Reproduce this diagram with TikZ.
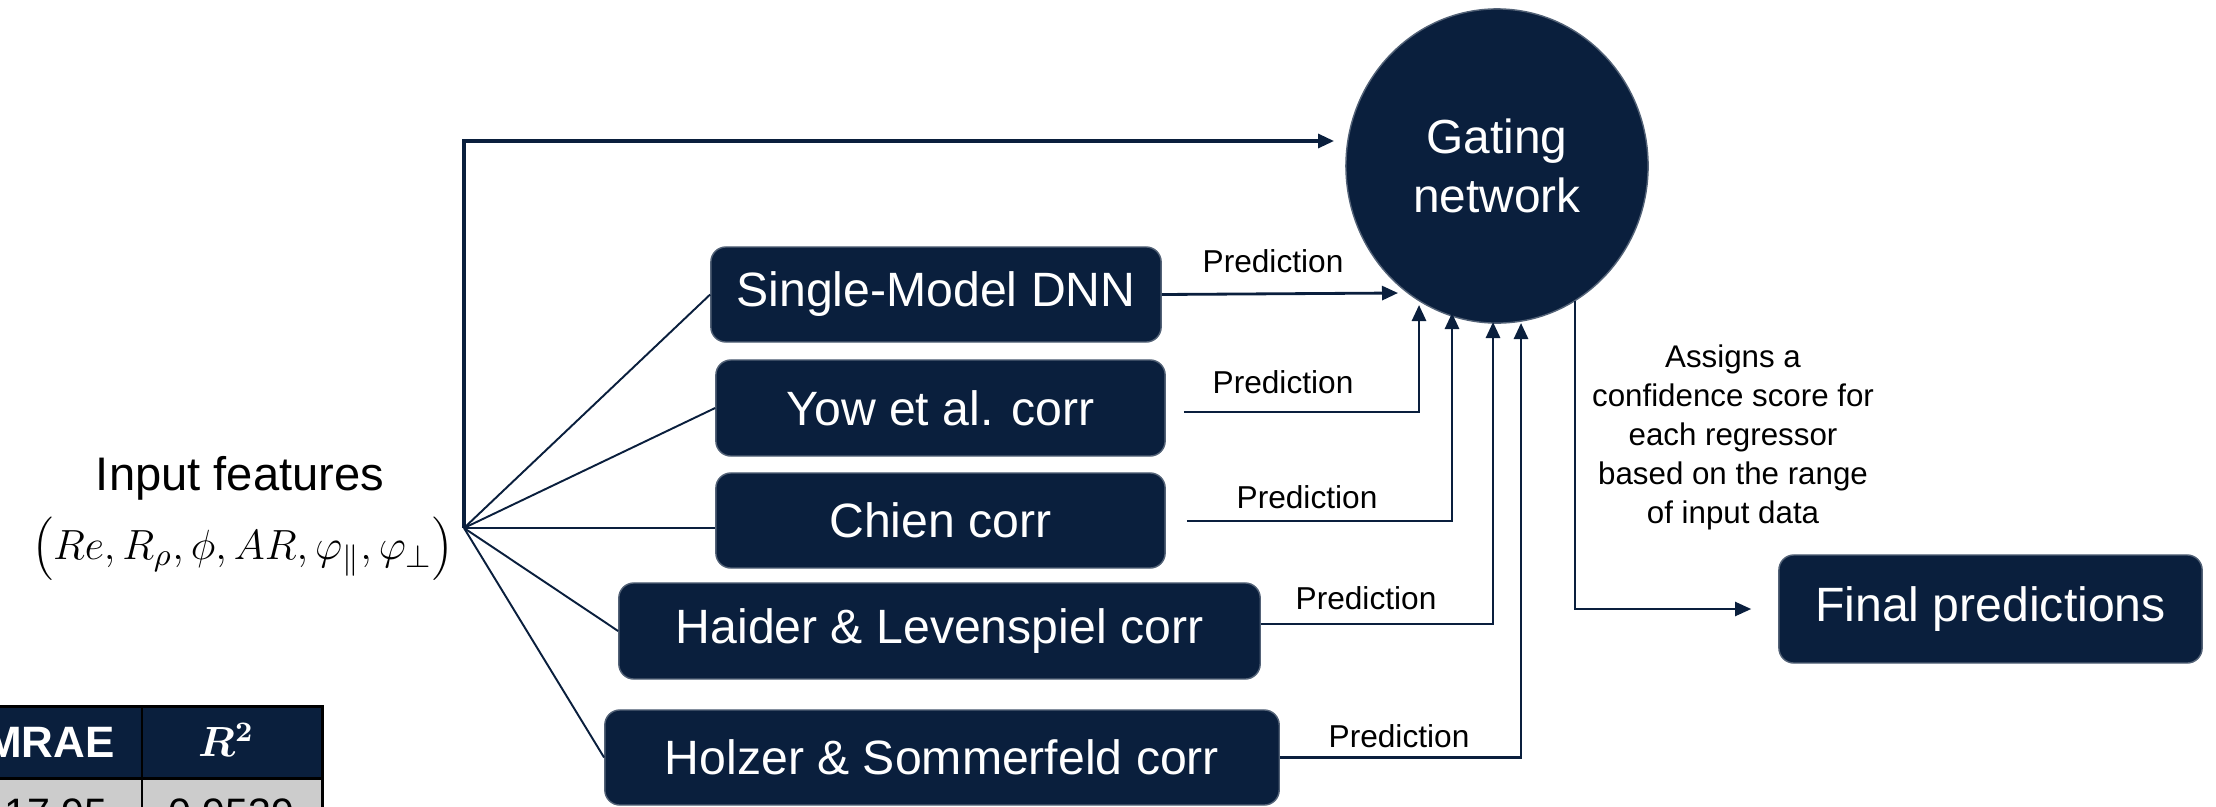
\documentclass[tikz,border=0pt]{standalone}
\usepackage{fontspec}
\setmainfont{Liberation Sans}
\usepackage{bm}
\usetikzlibrary{arrows.meta,shapes.geometric,calc}
\definecolor{navy}{HTML}{0A1F3D}
\definecolor{cellgray}{HTML}{CCCCCC}

\begin{document}
\begin{tikzpicture}[x=0.01cm,y=-0.01cm,
  modelbox/.style={draw=navy!70!white, line width=0.4pt, fill=navy, rounded corners=0.15cm,
    text=white, font=\fontsize{13.7}{16}\selectfont, inner sep=0pt, align=center},
  link/.style={draw=navy, line width=0.55pt},
  arr/.style={draw=navy, line width=0.8pt, -{Triangle[length=0.16cm,width=0.14cm]}},
  predlbl/.style={font=\fontsize{9}{10.5}\selectfont, inner sep=0pt},
]
\useasboundingbox (0,0) rectangle (2216,806);

% ---- results table (lower left) ----
\fill[navy] (-60,706) rectangle (322,778);
\fill[cellgray] (-60,778) rectangle (322,860);
\draw[black, line width=0.85pt] (-60,706) -- (322,706) -- (322,860);
\draw[black, line width=0.85pt] (-60,778) -- (322,778);
\draw[black, line width=0.85pt] (142,706) -- (142,860);
\node[text=white, font=\bfseries\fontsize{12.5}{14}\selectfont] (hmrae) at (50,742) {MRAE};
\node[text=white, font=\fontsize{12}{14}\selectfont] (hrsq) at (226,740) {$\bm{R}^{\bm{2}}$};
\node[font=\fontsize{11.7}{14}\selectfont] (vmrae) at (56,813) {17.95};
\node[font=\fontsize{11.7}{14}\selectfont] (vrsq) at (231,813) {0.9539};

% ---- inputs ----
\node[font=\fontsize{13.4}{16}\selectfont] (inlabel) at (240,478) {Input features};
\node[font=\fontsize{13}{15}\selectfont, inner sep=0pt] (invec) at (243,549)
  {$\Bigl(Re, R_\rho, \phi, AR, \varphi_\parallel, \varphi_\perp\Bigr)$};
\coordinate (fan) at (464,528);

% ---- regressors ----
\node[modelbox, minimum width=4.50cm, minimum height=0.95cm] (single) at (936,294.5) {Single-Model DNN};
\node[modelbox, minimum width=4.49cm, minimum height=0.96cm] (yow)    at (940.5,408) {Yow et al. corr};
\node[modelbox, minimum width=4.49cm, minimum height=0.95cm] (chien)  at (940.5,520.5) {Chien corr};
\node[modelbox, minimum width=6.41cm, minimum height=0.96cm] (haider) at (939.5,631) {Haider \& Levenspiel corr};
\node[modelbox, minimum width=6.74cm, minimum height=0.95cm] (holzer) at (942,757.5) {Holzer \& Sommerfeld corr};

% ---- gating network and output ----
\node[ellipse, fill=navy, draw=navy!70!white, line width=0.4pt, minimum width=3.02cm, minimum height=3.14cm,
  inner sep=0pt, text=white, align=center, font=\fontsize{13.6}{17}\selectfont] (gate) at (1497,166) {Gating\\network};
\node[modelbox, minimum width=4.23cm, minimum height=1.08cm] (final) at (1990.5,609) {Final predictions};

% ---- fan-out of the input features ----
\draw[link] (fan) -- (single.west);
\draw[link] (fan) -- (yow.west);
\draw[link] (fan) -- (fan -| chien.west);
\draw[link] (fan) -- (haider.west);
\draw[link] (fan) -- (holzer.west);
\coordinate (topin) at (1334,141);
\draw[arr, line width=0.9pt] (fan) |- (topin);

% ---- predictions into the gate ----
\coordinate (in1) at (1398,293);
\coordinate (in2) at (1419,305);
\coordinate (in3) at (1452,313);
\coordinate (in4) at (1493,322);
\coordinate (in5) at (1521,323);
\draw[arr] (single.east) -- (in1);
\draw[arr] ($(yow.east)+(18,4)$) -| (in2);
\draw[arr] ($(chien.east)+(21,0.5)$) -| (in3);
\draw[arr] ($(haider.east)+(0,-7)$) -| (in4);
\draw[arr] (holzer.east) -| (in5);

\node[predlbl] (p1) at (1273,261) {Prediction};
\node[predlbl] (p2) at (1283,382) {Prediction};
\node[predlbl] (p3) at (1307,497) {Prediction};
\node[predlbl] (p4) at (1366,598) {Prediction};
\node[predlbl] (p5) at (1399,736) {Prediction};

% ---- gate output ----
\draw[arr, line width=0.6pt] (gate.-60.7) |- ([xshift=-0.27cm]final.west);
\node[font=\fontsize{8.9}{11.1}\selectfont, align=center, inner sep=0pt] (note) at (1733,437)
  {Assigns a\\confidence score for\\each regressor\\based on the range\\of input data};
\end{tikzpicture}
\end{document}
